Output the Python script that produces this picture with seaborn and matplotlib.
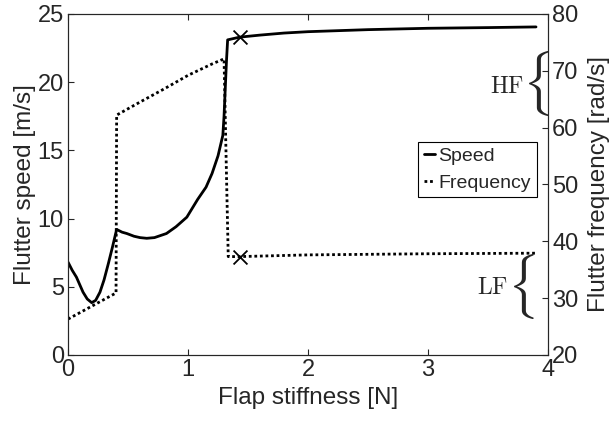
import matplotlib
matplotlib.use("Agg")
import matplotlib.pyplot as plt
import seaborn as sns

sns.set_style("ticks")
plt.rcParams['font.family'] = ['Liberation Sans', 'DejaVu Sans']
plt.rcParams['mathtext.fontset'] = 'cm'

# speed branch (left axis)
stiff_speed = [0.0, 0.035, 0.07, 0.1, 0.125, 0.16, 0.197, 0.23, 0.266, 0.3, 0.336, 0.37, 0.405,
               0.45, 0.49, 0.55, 0.6, 0.656, 0.72, 0.82, 0.9, 0.99, 1.08, 1.15, 1.2, 1.25, 1.29,
               1.3, 1.31, 1.32, 1.33, 1.43, 1.6, 1.8, 2.0, 2.5, 3.0, 3.5, 3.9]
speed = [6.8, 6.2, 5.7, 5.1, 4.6, 4.1, 3.83, 4.0, 4.6, 5.5, 6.7, 7.9, 9.2,
         9.0, 8.9, 8.7, 8.6, 8.55, 8.6, 8.9, 9.4, 10.1, 11.4, 12.3, 13.3, 14.6, 16.1,
         17.5, 19.5, 21.5, 23.1, 23.3, 23.45, 23.6, 23.7, 23.85, 23.95, 24.0, 24.05]

# frequency branch (right axis)
stiff_freq = [0.0, 0.4, 0.405, 0.6, 0.8, 1.0, 1.2, 1.3, 1.32, 1.335, 1.43, 2.0, 3.0, 3.9]
freq = [26.3, 30.9, 62.2, 64.5, 66.8, 69.2, 71.2, 72.1, 52.0, 37.3, 37.3, 37.6, 37.8, 37.9]

# flutter points marked with crosses
mark_x = [1.43]
mark_speed = [23.3]
mark_freq = [37.3]

fig, ax = plt.subplots(figsize=(6.13, 4.23), dpi=100)
ax2 = ax.twinx()

sns.lineplot(x=stiff_speed, y=speed, ax=ax, color='black', lw=2, label='Speed')
sns.lineplot(x=stiff_freq, y=freq, ax=ax2, color='black', lw=2, ls=(0, (1, 1)), label='Frequency')
sns.scatterplot(x=mark_x, y=mark_speed, ax=ax, marker='x', color='black', s=100, linewidth=1.3, zorder=5)
sns.scatterplot(x=mark_x, y=mark_freq, ax=ax2, marker='x', color='black', s=100, linewidth=1.3, zorder=5)
for a in (ax, ax2):
    if a.get_legend() is not None:
        a.get_legend().remove()

ax.set_xlim(0, 4)
ax.set_ylim(0, 25)
ax2.set_ylim(20, 80)
ax.set_xticks([0, 1, 2, 3, 4])
ax.set_yticks([0, 5, 10, 15, 20, 25])
ax2.set_yticks([20, 30, 40, 50, 60, 70, 80])
for a in (ax, ax2):
    a.tick_params(direction='in', labelsize=17, length=4, pad=3)
    for s in a.spines.values():
        s.set_visible(True)
        s.set_linewidth(0.8)
ax.tick_params(top=True)
ax.set_xlabel('Flap stiffness [N]', fontsize=17.5, labelpad=4)
ax.set_ylabel('Flutter speed [m/s]', fontsize=17.5, labelpad=1)
ax2.set_ylabel('Flutter frequency [rad/s]', fontsize=17.5, labelpad=6.5)

# annotations with braces
ax2.text(3.9, 67.8, r'$\{$', fontsize=39, ha='center', va='center')
ax2.text(3.80, 67.2, r'$\mathrm{HF}$', fontsize=17, ha='right', va='center')
ax2.text(3.77, 32.0, r'$\{$', fontsize=39, ha='center', va='center')
ax2.text(3.67, 31.8, r'$\mathrm{LF}$', fontsize=17, ha='right', va='center')

h1, l1 = ax.get_legend_handles_labels()
h2, l2 = ax2.get_legend_handles_labels()
leg = ax2.legend(h1[:1] + h2[:1], ['Speed', 'Frequency'], loc='upper left', bbox_to_anchor=(0.729, 0.625),
                 fontsize=14, handlelength=0.6, handletextpad=0.15, borderpad=0.3,
                 labelspacing=0.45, fancybox=False, edgecolor='black', framealpha=1,
                 borderaxespad=0)
leg.get_frame().set_linewidth(0.8)

fig.subplots_adjust(left=0.111, right=0.894, top=0.967, bottom=0.161)
fig.savefig('out.png', dpi=100)
